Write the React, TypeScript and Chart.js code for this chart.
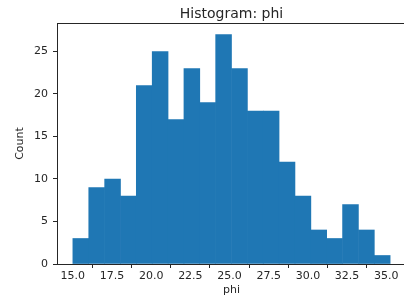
import React, { useEffect, useRef } from "react";
import { Chart, registerables } from "chart.js";

Chart.register(...registerables);

const binEdges = [15.0, 16.01, 17.03, 18.04, 19.05, 20.06, 21.08, 22.09, 23.1, 24.11, 25.13, 26.14, 27.15, 28.16, 29.18, 30.19, 31.2, 32.21, 33.23, 34.24, 35.25];
const counts = [3, 9, 10, 8, 21, 25, 17, 23, 19, 27, 23, 18, 18, 12, 8, 4, 3, 7, 4, 1];
const xTicks = [15.0, 17.5, 20.0, 22.5, 25.0, 27.5, 30.0, 32.5, 35.0];
const yTicks = [0, 5, 10, 15, 20, 25];
const titleText = "Histogram: phi";
const xLabel = "phi";
const yLabel = "Count";

const FONT = '"DejaVu Sans", sans-serif';
const INK = "#262626";

export default function App() {
  const ref = useRef<HTMLCanvasElement | null>(null);

  useEffect(() => {
    document.body.style.margin = "0";
    const canvas = ref.current!;
    const span = binEdges[binEdges.length - 1] - binEdges[0];
    const xMin = binEdges[0] - span * 0.05;
    const xMax = binEdges[binEdges.length - 1] + span * 0.05;
    const yMax = Math.max(...counts) * 1.05;

    const data = counts.map((c, i) => ({ x: (binEdges[i] + binEdges[i + 1]) / 2, y: c }));

    const decor = {
      id: "decor",
      afterDraw(chart: any) {
        const { ctx, chartArea } = chart;
        ctx.save();
        ctx.strokeStyle = INK;
        ctx.lineWidth = 1;
        ctx.beginPath();
        ctx.moveTo(chartArea.left, Math.round(chartArea.top) + 0.5);
        ctx.lineTo(chartArea.right, Math.round(chartArea.top) + 0.5);
        ctx.stroke();
        ctx.fillStyle = INK;
        ctx.font = `14px ${FONT}`;
        ctx.textAlign = "center";
        ctx.textBaseline = "alphabetic";
        ctx.fillText(titleText, (chartArea.left + chartArea.right) / 2, 17.5);
        ctx.restore();
      },
    };

    const chart = new Chart(canvas, {
      type: "bar",
      data: {
        datasets: [
          {
            data,
            backgroundColor: "#1f77b4",
            borderWidth: 0,
            barPercentage: 1,
            categoryPercentage: 1,
            grouped: false,
          } as any,
        ],
      },
      options: {
        responsive: false,
        animation: false,
        layout: { padding: { top: 23, right: 4, bottom: 0, left: 0 } },
        plugins: { legend: { display: false }, tooltip: { enabled: false }, title: { display: false } },
        scales: {
          x: {
            type: "linear",
            min: xMin,
            max: xMax,
            offset: false,
            afterBuildTicks: (s: any) => {
              s.ticks = xTicks.map((v) => ({ value: v }));
            },
            afterFit: (s: any) => {
              s.height = 37;
            },
            grid: { display: true, drawOnChartArea: false, tickLength: 4, color: INK },
            border: { display: true, color: INK, width: 1 },
            ticks: {
              color: INK,
              font: { family: FONT, size: 11 },
              padding: 2,
              maxRotation: 0,
              autoSkip: false,
              callback: (v: any) => Number(v).toFixed(1),
            },
            title: {
              display: true,
              text: xLabel,
              color: INK,
              font: { family: FONT, size: 11 },
              padding: { top: 0, bottom: 4 },
            },
          },
          y: {
            type: "linear",
            min: 0,
            max: yMax,
            afterBuildTicks: (s: any) => {
              s.ticks = yTicks.map((v) => ({ value: v }));
            },
            afterFit: (s: any) => {
              s.width = 57;
            },
            grid: { display: true, drawOnChartArea: false, tickLength: 4, color: INK },
            border: { display: true, color: INK, width: 1 },
            ticks: {
              color: INK,
              font: { family: FONT, size: 11 },
              padding: 5,
              callback: (v: any) => String(v),
            },
            title: {
              display: true,
              text: yLabel,
              color: INK,
              font: { family: FONT, size: 11 },
              padding: { top: 14, bottom: 0 },
            },
          },
        },
      },
      plugins: [decor],
    });
    return () => chart.destroy();
  }, []);

  return (
    <div style={{ width: 404, height: 301, overflow: "hidden", position: "relative" }}>
      <canvas ref={ref} width={410} height={301} style={{ width: 410, height: 301, display: "block" }} />
    </div>
  );
}
